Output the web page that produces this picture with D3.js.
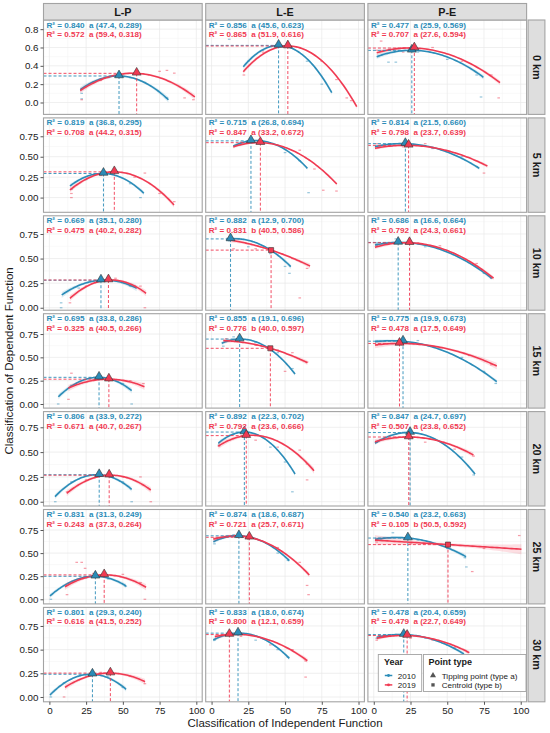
<!DOCTYPE html>
<html>
<head>
<meta charset="utf-8">
<script src="https://cdn.jsdelivr.net/npm/d3@7"></script>
<style>
  html, body { margin: 0; padding: 0; background: #fff; }
  svg { display: block; font-family: "Liberation Sans", Arial, sans-serif; }
</style>
</head>
<body>
<div id="chart"></div>
<script>
// facets
const distances = ["0 km", "5 km", "10 km", "15 km", "20 km", "25 km", "30 km"]
const pairs = ["L-P", "L-E", "P-E"]
const years = ["2010", "2019"]
const pointTypes = ["Tipping point (type a)", "Centroid (type b)"]

// free y per row
const yDomains = [[-0.13, 0.90], [-0.18, 0.975], [-0.025, 0.935], [-0.044, 0.968], [-0.043, 0.908], [-0.05, 0.972], [-0.051, 0.946]]
const yTickValues = [[0, 0.2, 0.4, 0.6, 0.8], [0, 0.25, 0.5, 0.75], [0, 0.25, 0.5, 0.75], [0, 0.25, 0.5, 0.75], [0, 0.25, 0.5, 0.75], [0, 0.25, 0.5, 0.75], [0, 0.25, 0.5, 0.75]]
const xTickValues = [0, 25, 50, 75, 100]

// rows = distance, cols = pair
const r2_2010 = [
  [0.840, 0.856, 0.477], [0.819, 0.715, 0.814], [0.669, 0.882, 0.686], [0.695, 0.855, 0.775],
  [0.806, 0.892, 0.847], [0.831, 0.874, 0.540], [0.801, 0.833, 0.478]]
const r2_2019 = [
  [0.572, 0.865, 0.707], [0.708, 0.847, 0.798], [0.475, 0.831, 0.792], [0.325, 0.776, 0.478],
  [0.671, 0.792, 0.507], [0.243, 0.721, 0.105], [0.616, 0.800, 0.479]]

const type2010 = [
  ["a", "a", "a"], ["a", "a", "a"], ["a", "a", "a"], ["a", "a", "a"], ["a", "a", "a"], ["a", "a", "a"], ["a", "a", "a"]]
const type2019 = [
  ["a", "a", "a"], ["a", "a", "a"], ["a", "b", "a"], ["a", "b", "a"], ["a", "a", "a"], ["a", "a", "b"], ["a", "a", "a"]]

const point2010 = [
  [[47.4, 0.289], [45.6, 0.623], [25.9, 0.569]],
  [[36.8, 0.295], [26.8, 0.694], [21.5, 0.660]],
  [[35.1, 0.280], [12.9, 0.700], [16.6, 0.664]],
  [[33.8, 0.286], [19.1, 0.696], [19.9, 0.673]],
  [[33.9, 0.272], [22.3, 0.702], [24.7, 0.697]],
  [[31.3, 0.249], [18.6, 0.687], [23.2, 0.663]],
  [[29.3, 0.240], [18.0, 0.674], [20.4, 0.659]]]
const point2019 = [
  [[59.4, 0.318], [51.9, 0.616], [27.6, 0.594]],
  [[44.2, 0.315], [33.2, 0.672], [23.7, 0.639]],
  [[40.2, 0.282], [40.5, 0.586], [24.3, 0.661]],
  [[40.5, 0.266], [40.0, 0.597], [17.5, 0.649]],
  [[40.7, 0.267], [23.6, 0.666], [23.8, 0.652]],
  [[37.3, 0.264], [25.7, 0.671], [50.5, 0.592]],
  [[41.5, 0.252], [12.1, 0.659], [22.7, 0.649]]]

// fitted curve ends: [xStart, yStart, xEnd, yEnd]
const curve2010 = [
  [[21, 0.14, 81, 0.03], [21.6, 0.39, 81.8, 0.107], [2, 0.50, 74.6, 0.275]],
  [[14, 0.142, 64.3, 0.053], [14.8, 0.631, 65.2, 0.358], [0.8, 0.623, 71.8, 0.358]],
  [[8.4, 0.13, 59.4, 0.198], [10, 0.695, 53.9, 0.418], [0.8, 0.638, 80.3, 0.299]],
  [[6.1, 0.078, 56, 0.143], [6.9, 0.651, 56.8, 0.322], [0.8, 0.668, 83.7, 0.239]],
  [[3.8, 0.051, 56, 0.125], [4.6, 0.589, 56.8, 0.279], [0.8, 0.589, 68.9, 0.279]],
  [[0.4, 0.036, 52.2, 0.144], [1.2, 0.623, 52.9, 0.418], [0.8, 0.649, 62.8, 0.461]],
  [[0.4, 0.021, 52.2, 0.081], [1.2, 0.602, 52.9, 0.408], [2, 0.63, 61.4, 0.454]]]
const curve2019 = [
  [[21, 0.13, 99, 0.06], [21.6, 0.336, 98.8, -0.046], [2, 0.543, 85.9, 0.216]],
  [[14, 0.093, 84.8, -0.09], [14.8, 0.62, 85.2, 0.166], [0.8, 0.603, 77.3, 0.386]],
  [[14, 0.096, 65.8, 0.147], [12.5, 0.689, 67, 0.424], [0.8, 0.615, 81.5, 0.30]],
  [[12.9, 0.17, 64.7, 0.186], [8, 0.68, 65.2, 0.443], [0.8, 0.632, 83.7, 0.407]],
  [[11.8, 0.085, 69, 0.118], [4.6, 0.561, 69.7, 0.313], [0.8, 0.605, 67.8, 0.471]],
  [[10.6, 0.136, 65.8, 0.13], [1.2, 0.649, 66.5, 0.263], [0.8, 0.64, 100.5, 0.542]],
  [[10.6, 0.102, 65.1, 0.161], [2.3, 0.637, 65.2, 0.383], [2, 0.62, 65, 0.468]]]

// confidence band half-width at the curve ends
const band2010 = [
  [0.03, 0.025, 0.025], [0.025, 0.02, 0.02], [0.03, 0.025, 0.02], [0.03, 0.02, 0.02],
  [0.025, 0.02, 0.02], [0.025, 0.02, 0.025], [0.025, 0.02, 0.02]]
const band2019 = [
  [0.03, 0.025, 0.025], [0.03, 0.02, 0.02], [0.03, 0.025, 0.02], [0.035, 0.025, 0.035],
  [0.03, 0.03, 0.025], [0.035, 0.025, 0.055], [0.03, 0.025, 0.02]]

// visible scattered observations
const scatter2010 = [
  [[22, 0.10], [30, 0.22], [40, 0.27], [55, 0.27], [65, 0.22], [80, 0.05], [22, 0.04]],
  [[15, 0.10], [25, 0.22], [45, 0.27], [55, 0.17], [62, 0.0]],
  [[8, 0.0], [8, 0.05], [20, 0.2], [45, 0.27], [55, 0.22]],
  [[6, 0.0], [15, 0.2], [35, 0.3], [50, 0.22], [56, 0.0]],
  [[4, 0.0], [15, 0.2], [35, 0.28], [50, 0.2], [56, 0.0]],
  [[1, 0.0], [10, 0.15], [25, 0.23], [40, 0.22], [52, 0.14]],
  [[1, 0.0], [10, 0.15], [25, 0.22], [40, 0.22], [50, 0.1]]]
const scatterLE2010 = [
  [[12, 0.69], [25, 0.45], [35, 0.57], [50, 0.60], [65, 0.45], [75, 0.2]],
  [[20, 0.66], [35, 0.66], [50, 0.55], [60, 0.45], [66, 0.06]],
  [[12, 0.68], [25, 0.62], [40, 0.55], [50, 0.42], [53, 0.35]],
  [[8, 0.62], [15, 0.72], [30, 0.66], [45, 0.55], [55, 0.38]],
  [[5, 0.57], [15, 0.68], [25, 0.70], [40, 0.55], [50, 0.4], [55, 0.1]],
  [[2, 0.6], [15, 0.70], [30, 0.65], [45, 0.5], [52, 0.42]],
  [[2, 0.6], [15, 0.66], [30, 0.6], [45, 0.5], [52, 0.42]]]
const scatterPE2010 = [
  [[3, 0.5], [10, 0.44], [15, 0.44], [30, 0.55], [50, 0.47], [70, 0.3], [73, 0.06]],
  [[2, 0.63], [12, 0.63], [40, 0.6], [60, 0.5], [70, 0.38]],
  [[2, 0.66], [15, 0.7], [35, 0.62], [55, 0.55], [75, 0.35]],
  [[2, 0.68], [30, 0.68], [60, 0.50], [75, 0.35], [83, 0.22]],
  [[2, 0.6], [20, 0.7], [40, 0.63], [60, 0.45], [68, 0.27]],
  [[5, 0.65], [13, 0.72], [30, 0.64], [50, 0.55], [62, 0.45], [63, 0.35]],
  [[2, 0.62], [15, 0.66], [35, 0.62], [50, 0.55], [60, 0.45]]]
const scatter2019 = [
  [[22, 0.03], [35, 0.24], [50, 0.30], [75, 0.34], [80, 0.35], [85, 0.32], [92, 0.05], [98, 0.03]],
  [[15, 0.0], [15, 0.05], [35, 0.27], [58, 0.25], [65, 0.3], [75, 0.05], [85, -0.05]],
  [[14, 0.05], [25, 0.22], [45, 0.3], [58, 0.22], [62, 0.22], [65, 0.0]],
  [[13, 0.05], [15, 0.33], [30, 0.26], [55, 0.25], [64, 0.22]],
  [[12, 0.1], [25, 0.22], [50, 0.25], [62, 0.25], [69, 0.0]],
  [[12, 0.05], [18.6, 0.40], [22, 0.40], [24.3, 0.335], [30, 0.28], [50, 0.27], [62, 0.18], [65, 0.0]],
  [[10, 0.0], [20, 0.18], [35, 0.26], [55, 0.22], [65, 0.14]]]
const scatterLE2019 = [
  [[22, 0.30], [35, 0.55], [60, 0.60], [75, 0.45], [85, 0.25], [95, 0.02], [92, 0.05]],
  [[20, 0.68], [45, 0.64], [60, 0.58], [70, 0.35], [76, 0.09], [85, 0.08]],
  [[15, 0.6], [30, 0.6], [48, 0.55], [55, 0.5], [65, 0.40], [60, 0.1]],
  [[10, 0.7], [30, 0.63], [45, 0.58], [55, 0.55], [65, 0.45], [50, 0.35]],
  [[5, 0.56], [30, 0.62], [45, 0.55], [60, 0.52], [65, 0.38], [65, 0.22]],
  [[2, 0.66], [25, 0.65], [45, 0.56], [60, 0.4], [65, 0.15], [66, 0.05]],
  [[3, 0.64], [20, 0.64], [40, 0.55], [55, 0.5], [64, 0.38], [64, 0.21]]]
const scatterPE2019 = [
  [[2, 0.57], [5, 0.67], [20, 0.55], [40, 0.6], [60, 0.45], [80, 0.3], [85, 0.05]],
  [[2, 0.66], [20, 0.62], [35, 0.66], [55, 0.55], [75, 0.30]],
  [[2, 0.63], [30, 0.66], [45, 0.63], [70, 0.45], [80, 0.3]],
  [[2, 0.63], [20, 0.66], [45, 0.6], [65, 0.52], [80, 0.42]],
  [[2, 0.6], [15, 0.68], [35, 0.6], [55, 0.53], [68, 0.46]],
  [[2, 0.62], [25, 0.6], [67, 0.30], [75, 0.55], [99, 0.69], [90, 0.55]],
  [[2, 0.6], [25, 0.62], [40, 0.6], [55, 0.52], [64, 0.47]]]

// ---- layout
const width = 550, height = 733
const plotLeft = 43.5, plotTop = 20
const panelW = 158.7, panelH = 94.4, gap = 3.5, stripH = 16.5, stripW = 16.8
const borderColor = "#a3a3a3"
const stripFill = "#dedede"

const color = d3.scaleOrdinal(years, ["#2b8cb8", "#f03a52"])

const series = {
  "2010": { r2: r2_2010, type: type2010, point: point2010, curve: curve2010, band: band2010,
            scatter: (r, c) => [scatter2010, scatterLE2010, scatterPE2010][c][r] },
  "2019": { r2: r2_2019, type: type2019, point: point2019, curve: curve2019, band: band2019,
            scatter: (r, c) => [scatter2019, scatterLE2019, scatterPE2019][c][r] }
}

const svg = d3.select("#chart").append("svg")
  .attr("width", width)
  .attr("height", height)
svg.append("rect").attr("width", width).attr("height", height).attr("fill", "#fff")

const x = d3.scaleLinear([-4, 104], [0, panelW])
const f1 = d3.format(".1f"), f3 = d3.format(".3f")

// quadratic through three read points
function quadThrough(p0, p1, p2) {
  return t =>
    p0[1] * (t - p1[0]) * (t - p2[0]) / ((p0[0] - p1[0]) * (p0[0] - p2[0])) +
    p1[1] * (t - p0[0]) * (t - p2[0]) / ((p1[0] - p0[0]) * (p1[0] - p2[0])) +
    p2[1] * (t - p0[0]) * (t - p1[0]) / ((p2[0] - p0[0]) * (p2[0] - p1[0]))
}

const defs = svg.append("defs")

distances.forEach((dist, r) => {
  const py0 = plotTop + r * (panelH + gap)
  const y = d3.scaleLinear(yDomains[r], [panelH, 0])
  const ticksY = yTickValues[r]
  const yFmt = ticksY.some(v => Math.round(v * 10) !== v * 10) ? d3.format(".2f") : d3.format(".1f")

  pairs.forEach((pair, c) => {
    const px0 = plotLeft + c * (panelW + gap)
    const g = svg.append("g").attr("transform", `translate(${px0},${py0})`)
    const clipId = `clip-${r}-${c}`
    defs.append("clipPath").attr("id", clipId)
      .append("rect").attr("width", panelW).attr("height", panelH)

    g.append("rect").attr("width", panelW).attr("height", panelH).attr("fill", "#fff")

    // grid: minor then major
    const minorX = xTickValues.slice(0, -1).map((v, i) => (v + xTickValues[i + 1]) / 2)
    const minorY = ticksY.slice(0, -1).map((v, i) => (v + ticksY[i + 1]) / 2)
      .concat([ticksY[ticksY.length - 1] + (ticksY[1] - ticksY[0]) / 2])
    g.append("g").selectAll("line").data(minorX).join("line")
      .attr("x1", d => x(d)).attr("x2", d => x(d)).attr("y1", 0).attr("y2", panelH)
      .attr("stroke", "#f3f3f3").attr("stroke-width", 0.5)
    g.append("g").selectAll("line").data(minorY.filter(v => v < yDomains[r][1])).join("line")
      .attr("x1", 0).attr("x2", panelW).attr("y1", d => y(d)).attr("y2", d => y(d))
      .attr("stroke", "#f3f3f3").attr("stroke-width", 0.5)
    g.append("g").selectAll("line").data(xTickValues).join("line")
      .attr("x1", d => x(d)).attr("x2", d => x(d)).attr("y1", 0).attr("y2", panelH)
      .attr("stroke", "#e8e8e8").attr("stroke-width", 0.7)
    g.append("g").selectAll("line").data(ticksY).join("line")
      .attr("x1", 0).attr("x2", panelW).attr("y1", d => y(d)).attr("y2", d => y(d))
      .attr("stroke", "#e8e8e8").attr("stroke-width", 0.7)

    const plot = g.append("g").attr("clip-path", `url(#${clipId})`)

    // scatter
    years.forEach(yr => {
      plot.append("g").selectAll("rect").data(series[yr].scatter(r, c)).join("rect")
        .attr("x", d => x(d[0]) - 1.3).attr("y", d => y(d[1]) - 0.6)
        .attr("width", 2.6).attr("height", 1.2)
        .attr("fill", color(yr)).attr("opacity", 0.5)
    })

    // ribbons + curves
    years.forEach(yr => {
      const s = series[yr]
      const [xa, ya, xb, yb] = s.curve[r][c]
      const pt = s.point[r][c]
      const fit = quadThrough([xa, ya], pt, [xb, yb])
      const mid = (xa + xb) / 2, half = (xb - xa) / 2
      const edge = s.band[r][c]
      const w = t => edge * 0.3 + edge * 0.7 * Math.pow((t - mid) / half, 2)
      const xs = d3.range(0, 61).map(i => xa + (xb - xa) * i / 60)
      plot.append("path").datum(xs)
        .attr("d", d3.area().x(t => x(t)).y0(t => y(fit(t) - w(t))).y1(t => y(fit(t) + w(t))))
        .attr("fill", color(yr)).attr("opacity", 0.16)
      plot.append("path").datum(xs)
        .attr("d", d3.line().x(t => x(t)).y(t => y(fit(t))))
        .attr("fill", "none").attr("stroke", color(yr)).attr("stroke-width", 1.6)
    })

    // dashed guides
    years.forEach(yr => {
      const pt = series[yr].point[r][c]
      plot.append("line")
        .attr("x1", 0).attr("x2", x(pt[0])).attr("y1", y(pt[1])).attr("y2", y(pt[1]))
        .attr("stroke", color(yr)).attr("stroke-width", 0.9).attr("stroke-dasharray", "3,2")
      plot.append("line")
        .attr("x1", x(pt[0])).attr("x2", x(pt[0])).attr("y1", y(pt[1])).attr("y2", panelH)
        .attr("stroke", color(yr)).attr("stroke-width", 0.9).attr("stroke-dasharray", "3,2")
    })

    // markers
    years.forEach(yr => {
      const s = series[yr]
      const pt = s.point[r][c]
      const isA = s.type[r][c] === "a"
      plot.append("path")
        .attr("d", d3.symbol(isA ? d3.symbolTriangle : d3.symbolSquare, isA ? 34 : 26)())
        .attr("transform", `translate(${x(pt[0])},${y(pt[1]) + (isA ? -0.8 : 0)})`)
        .attr("fill", color(yr)).attr("stroke", "#333").attr("stroke-width", 0.6)
    })

    // annotations
    years.forEach((yr, i) => {
      const s = series[yr]
      const pt = s.point[r][c]
      g.append("text")
        .attr("x", 3).attr("y", 7.6 + i * 9.4)
        .attr("font-size", "8.1px").attr("font-weight", "bold")
        .attr("fill", color(yr))
        .style("white-space", "pre")
        .text(`R² = ${f3(s.r2[r][c])}  ${s.type[r][c]} (${f1(pt[0])}, ${f3(pt[1])})`)
    })

    g.append("rect").attr("width", panelW).attr("height", panelH)
      .attr("fill", "none").attr("stroke", borderColor).attr("stroke-width", 1.1)

    // axes
    if (c === 0) {
      const ax = g.append("g").call(d3.axisLeft(y).tickValues(ticksY).tickSize(3).tickPadding(2).tickFormat(yFmt))
      ax.select(".domain").remove()
      ax.selectAll(".tick line").attr("stroke", "#555")
      ax.selectAll(".tick text").attr("font-size", "9.8px").attr("fill", "#1a1a1a")
        .attr("font-family", "Liberation Sans, Arial, sans-serif")
    }
    if (r === distances.length - 1) {
      const ax = g.append("g").attr("transform", `translate(0,${panelH})`)
        .call(d3.axisBottom(x).tickValues(xTickValues).tickSize(3).tickPadding(2))
      ax.select(".domain").remove()
      ax.selectAll(".tick line").attr("stroke", "#555")
      ax.selectAll(".tick text").attr("font-size", "9.8px").attr("fill", "#1a1a1a")
        .attr("font-family", "Liberation Sans, Arial, sans-serif")
    }

    // top strips
    if (r === 0) {
      svg.append("rect")
        .attr("x", px0).attr("y", plotTop - stripH).attr("width", panelW).attr("height", stripH)
        .attr("fill", stripFill).attr("stroke", borderColor).attr("stroke-width", 1.1)
      svg.append("text")
        .attr("x", px0 + panelW / 2).attr("y", plotTop - stripH / 2 + 3.8)
        .attr("text-anchor", "middle").attr("font-size", "10.8px").attr("font-weight", "bold")
        .attr("fill", "#1a1a1a").text(pair)
    }
  })

  // right strip
  const sx = plotLeft + 3 * panelW + 2 * gap + 1.5
  svg.append("rect")
    .attr("x", sx).attr("y", py0).attr("width", stripW).attr("height", panelH)
    .attr("fill", stripFill).attr("stroke", borderColor).attr("stroke-width", 1.1)
  svg.append("text")
    .attr("transform", `translate(${sx + stripW / 2 - 3.8},${py0 + panelH / 2}) rotate(90)`)
    .attr("text-anchor", "middle").attr("font-size", "10.8px").attr("font-weight", "bold")
    .attr("fill", "#1a1a1a").text(dist)
})

// axis titles
const plotBottom = plotTop + distances.length * panelH + (distances.length - 1) * gap
const plotRight = plotLeft + 3 * panelW + 2 * gap
svg.append("text")
  .attr("x", (plotLeft + plotRight) / 2).attr("y", 727)
  .attr("text-anchor", "middle").attr("font-size", "11.5px").attr("fill", "#1a1a1a")
  .text("Classification of Independent Function")
svg.append("text")
  .attr("transform", `translate(12.5,${(plotTop + plotBottom) / 2}) rotate(-90)`)
  .attr("text-anchor", "middle").attr("font-size", "11.5px").attr("fill", "#1a1a1a")
  .text("Classification of Dependent Function")

// legend
const legend = svg.append("g")
const boxH = 37
const yearBox = legend.append("g").attr("transform", "translate(378.3,654.5)")
yearBox.append("rect").attr("width", 43.4).attr("height", boxH)
  .attr("fill", "#fff").attr("stroke", borderColor).attr("stroke-width", 0.9)
yearBox.append("text").attr("x", 5.7).attr("y", 10.8).attr("font-size", "9px").attr("font-weight", "bold")
  .attr("fill", "#1a1a1a").text("Year")
years.forEach((yr, i) => {
  const gy = 21 + i * 9.4
  yearBox.append("line").attr("x1", 6.5).attr("x2", 14).attr("y1", gy).attr("y2", gy)
    .attr("stroke", color(yr)).attr("stroke-width", 1.5)
  yearBox.append("circle").attr("cx", 10.2).attr("cy", gy).attr("r", 1.4).attr("fill", color(yr))
  yearBox.append("text").attr("x", 19.4).attr("y", gy + 3).attr("font-size", "8.1px")
    .attr("fill", "#1a1a1a").text(yr)
})

const typeBox = legend.append("g").attr("transform", "translate(423.5,654.5)")
typeBox.append("rect").attr("width", 102.5).attr("height", boxH)
  .attr("fill", "#fff").attr("stroke", borderColor).attr("stroke-width", 0.9)
typeBox.append("text").attr("x", 5).attr("y", 10.8).attr("font-size", "9px").attr("font-weight", "bold")
  .attr("fill", "#1a1a1a").text("Point type")
pointTypes.forEach((pt, i) => {
  const gy = 21 + i * 9.4
  typeBox.append("path")
    .attr("d", d3.symbol(i === 0 ? d3.symbolTriangle : d3.symbolSquare, i === 0 ? 16 : 11)())
    .attr("transform", `translate(9.5,${gy})`)
    .attr("fill", "#555")
  typeBox.append("text").attr("x", 18.2).attr("y", gy + 3).attr("font-size", "8.1px")
    .attr("fill", "#1a1a1a").text(pt)
})
</script>
</body>
</html>
